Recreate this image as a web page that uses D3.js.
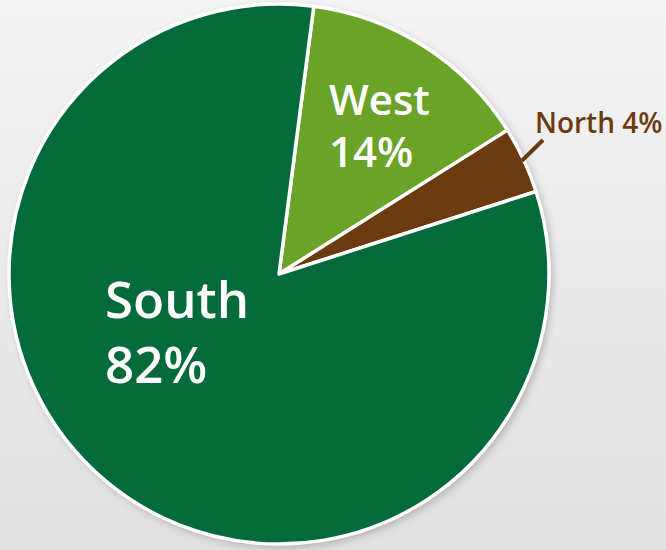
<!DOCTYPE html>
<html><head><meta charset="utf-8">
<script src="https://cdn.jsdelivr.net/npm/d3@7"></script>
<style>html,body{margin:0;padding:0;overflow:hidden;}</style>
</head><body>
<script>
const regions = ["West", "North", "South"];
const shares = [14, 4, 82];
const colors = ["#6aa328", "#6b3b0f", "#036a3a"];

const W = 666, H = 550;
const svg = d3.select("body").append("svg").attr("width", W).attr("height", H);
const defs = svg.append("defs");
const bg = defs.append("linearGradient").attr("id","bg").attr("x1",0).attr("y1",0).attr("x2",0).attr("y2",1);
bg.append("stop").attr("offset","0%").attr("stop-color","#f4f4f4");
bg.append("stop").attr("offset","100%").attr("stop-color","#e1e1e1");
const f = defs.append("filter").attr("id","sh").attr("x","-20%").attr("y","-20%").attr("width","140%").attr("height","140%");
f.append("feDropShadow").attr("dx",3).attr("dy",3).attr("stdDeviation",4).attr("flood-color","#000").attr("flood-opacity",0.25);
svg.append("rect").attr("width",W).attr("height",H).attr("fill","url(#bg)");

const cx = 279, cy = 274, R = 270;
const start = 7.4 * Math.PI / 180;
const pie = d3.pie().sort(null).startAngle(start).endAngle(start + 2*Math.PI);
const arcs = pie(shares);
const arc = d3.arc().innerRadius(0).outerRadius(R);
const g = svg.append("g").attr("transform", `translate(${cx},${cy})`);
g.append("circle").attr("r", R).attr("fill","#fff").attr("filter","url(#sh)");
g.selectAll("path").data(arcs).join("path")
  .attr("d", arc)
  .attr("fill", (d,i) => colors[i])
  .attr("stroke", "#fff").attr("stroke-width", 3.5).attr("stroke-linejoin","round");

const font = "'Open Sans', 'Noto Sans', sans-serif";
// South label
const sLab = svg.append("text").attr("font-family", font).attr("font-weight", 600)
  .attr("font-size", 51).attr("fill", "#fff");
sLab.append("tspan").attr("x", 105).attr("y", 318).text(regions[2]);
sLab.append("tspan").attr("x", 105).attr("y", 383).text(shares[2] + "%");
// West label
const wLab = svg.append("text").attr("font-family", font).attr("font-weight", 600)
  .attr("font-size", 42).attr("fill", "#fff");
wLab.append("tspan").attr("x", 329).attr("y", 115).text(regions[0]);
wLab.append("tspan").attr("x", 329).attr("y", 167).text(shares[0] + "%");

// North label with leader
const na = arcs[1];
const mid = (na.startAngle + na.endAngle) / 2;
const p0 = [cx + Math.sin(mid) * (R - 2), cy - Math.cos(mid) * (R - 2)];
svg.append("line").attr("x1", p0[0]).attr("y1", p0[1]).attr("x2", 543).attr("y2", 140)
  .attr("stroke", colors[1]).attr("stroke-width", 4);
svg.append("text").attr("font-family", font).attr("font-weight", 600)
  .attr("font-size", 28).attr("fill", colors[1])
  .attr("x", 535).attr("y", 133).text(regions[1] + " " + shares[1] + "%");
</script>
</body></html>
